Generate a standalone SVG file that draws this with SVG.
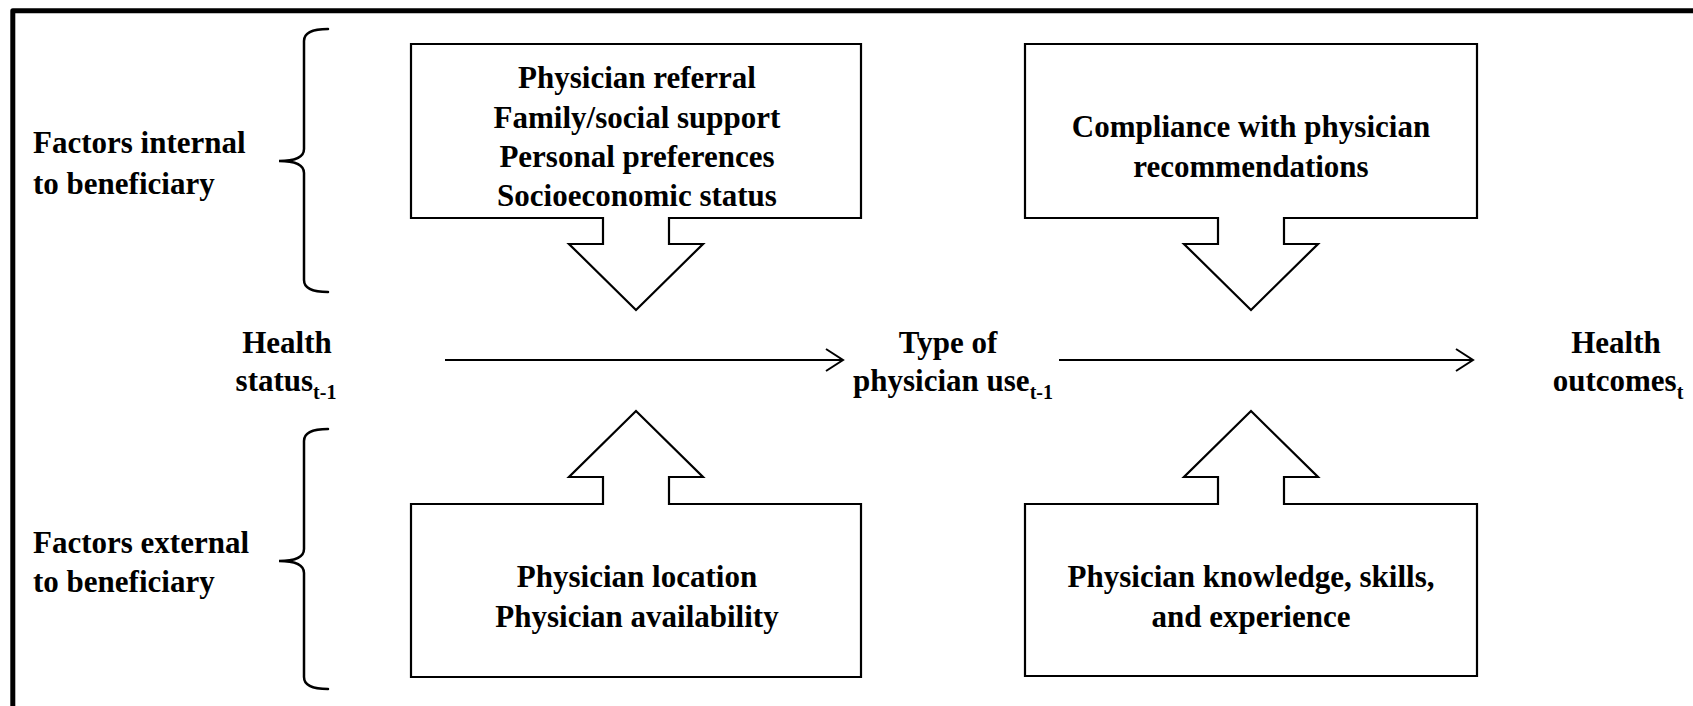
<svg xmlns="http://www.w3.org/2000/svg" width="1693" height="706" viewBox="0 0 1693 706">
  <defs>
    <style>
      .frame { fill: none; stroke: #000; stroke-width: 5; stroke-linejoin: round; }
      .block { fill: #fff; stroke: #000; stroke-width: 2.2; stroke-linejoin: miter; }
      .brace { fill: none; stroke: #000; stroke-width: 2.5; stroke-linecap: round; }
      .flow { fill: none; stroke: #000; stroke-width: 2; }
      text { font-family: 'Liberation Serif', 'DejaVu Serif', serif; font-weight: bold; font-size: 31px; fill: #000; }
      .mid { text-anchor: middle; }
      .sub { font-size: 20px; }
    </style>
    <marker id="chevron" markerUnits="userSpaceOnUse" markerWidth="22" markerHeight="28" refX="18" refY="12" orient="auto">
      <path d="M1,1 L18,12 L1,23" fill="none" stroke="#000" stroke-width="2"/>
    </marker>
  </defs>

  <rect width="1693" height="706" fill="#fff"/>

  <!-- outer frame (open at right and bottom) -->
  <path class="frame" d="M12.8,706 V10.8 H1693"/>

  <!-- side braces -->
  <g id="brace-internal" font-family="Liberation Serif, serif">
    <path class="brace" d="M328,29 Q304,29 304,41 V149 Q304,161 279,161 Q304,161 304,173 V280 Q304,292 328,292"/>
    <text x="33" y="153">Factors internal</text>
    <text x="33" y="194">to beneficiary</text>
  </g>
  <g id="brace-external">
    <path class="brace" d="M328,429 Q304,429 304,441 V549 Q304,561 279,561 Q304,561 304,573 V677 Q304,689 328,689"/>
    <text x="33" y="553">Factors external</text>
    <text x="33" y="592">to beneficiary</text>
  </g>

  <!-- main chain nodes -->
  <g id="health-status">
    <text class="mid" x="287" y="353">Health</text>
    <text class="mid" x="286" y="391">status<tspan class="sub" dy="8">t-1</tspan></text>
  </g>
  <g id="physician-use">
    <text class="mid" x="948" y="353">Type of</text>
    <text class="mid" x="953" y="391">physician use<tspan class="sub" dy="8">t-1</tspan></text>
  </g>
  <g id="health-outcomes">
    <text class="mid" x="1616" y="353">Health</text>
    <text class="mid" x="1618" y="391">outcomes<tspan class="sub" dy="8">t</tspan></text>
  </g>

  <!-- influence blocks with block arrows -->
  <g id="internal-factors-upstream">
    <path class="block" d="M411,44 H861 V218 H669 V244 H703 L636,310 L569,244 H603 V218 H411 Z"/>
    <text class="mid" x="637" y="88">Physician referral</text>
    <text class="mid" x="637" y="128">Family/social support</text>
    <text class="mid" x="637" y="167">Personal preferences</text>
    <text class="mid" x="637" y="206">Socioeconomic status</text>
  </g>
  <g id="internal-factors-downstream">
    <path class="block" d="M1025,44 H1477 V218 H1284 V244 H1318 L1251,310 L1184,244 H1218 V218 H1025 Z"/>
    <text class="mid" x="1251" y="137">Compliance with physician</text>
    <text class="mid" x="1251" y="177">recommendations</text>
  </g>
  <g id="external-factors-upstream">
    <path class="block" d="M411,677 H861 V504 H669 V477 H703 L636,411 L569,477 H603 V504 H411 Z"/>
    <text class="mid" x="637" y="587">Physician location</text>
    <text class="mid" x="637" y="627">Physician availability</text>
  </g>
  <g id="external-factors-downstream">
    <path class="block" d="M1025,676 H1477 V504 H1284 V477 H1318 L1251,411 L1184,477 H1218 V504 H1025 Z"/>
    <text class="mid" x="1251" y="587">Physician knowledge, skills,</text>
    <text class="mid" x="1251" y="627">and experience</text>
  </g>

  <!-- connectors -->
  <g id="connectors">
    <line class="flow" x1="445" y1="360" x2="843" y2="360" marker-end="url(#chevron)"/>
    <line class="flow" x1="1059" y1="360" x2="1473" y2="360" marker-end="url(#chevron)"/>
  </g>
</svg>
